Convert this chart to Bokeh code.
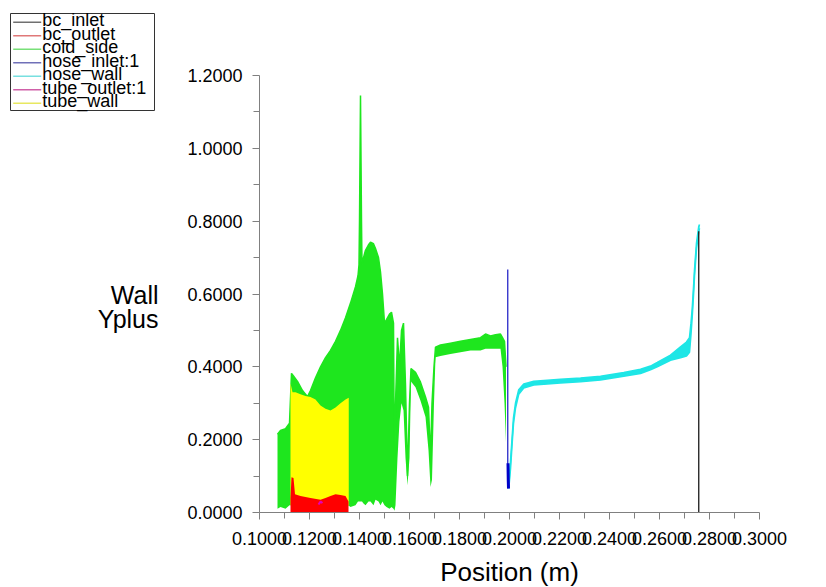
from bokeh.plotting import figure
from bokeh.models import Range1d, FixedTicker, PrintfTickFormatter, Label, Arrow
from bokeh.embed import file_html
from bokeh.resources import INLINE

# ---------------- data ----------------
x_ticks = [0.10, 0.12, 0.14, 0.16, 0.18, 0.20, 0.22, 0.24, 0.26, 0.28, 0.30]
x_minor = [0.11, 0.13, 0.15, 0.17, 0.19, 0.21, 0.23, 0.25, 0.27, 0.29]
y_ticks = [0.0, 0.2, 0.4, 0.6, 0.8, 1.0, 1.2]
y_minor = [0.1, 0.3, 0.5, 0.7, 0.9, 1.1]

series_names = ["bc_inlet", "bc_outlet", "cold_side", "hose_inlet:1",
                "hose_wall", "tube_outlet:1", "tube_wall"]

# cold_side (dense zig-zag) : envelope
cold_pos = [0.1072, 0.1084, 0.1104, 0.1120, 0.1128, 0.1136, 0.1152, 0.1172, 0.1192, 0.1204,
            0.1224, 0.1244, 0.1264, 0.1284, 0.1304, 0.1324, 0.1344, 0.1364, 0.1384, 0.1394,
            0.1398, 0.1400, 0.1404, 0.1408, 0.1410, 0.1416, 0.1424, 0.1436, 0.1444, 0.1456,
            0.1464, 0.1476, 0.1484, 0.1492, 0.1496, 0.1500, 0.1508, 0.1520, 0.1528, 0.1536,
            0.1540,
            0.1544, 0.1552, 0.1560, 0.1568, 0.1576, 0.1584, 0.1592,
            0.1600, 0.1606, 0.1624, 0.1644, 0.1664, 0.1676, 0.1684, 0.1690, 0.1698, 0.1704,
            0.1724, 0.1764, 0.1804, 0.1844, 0.1884, 0.1904, 0.1924, 0.1944, 0.1964, 0.1972,
            0.1980, 0.1986]
cold_max = [0.215, 0.225, 0.230, 0.245, 0.382, 0.375, 0.360, 0.335, 0.318, 0.335,
            0.370, 0.400, 0.425, 0.445, 0.470, 0.500, 0.535, 0.575, 0.620, 0.650,
            0.680, 0.800, 1.145, 0.800, 0.680, 0.700, 0.720, 0.735, 0.742, 0.738,
            0.725, 0.700, 0.660, 0.600, 0.560, 0.520, 0.530, 0.545, 0.550, 0.520,
            0.050,
            0.300, 0.480, 0.400, 0.500, 0.520, 0.350, 0.100,
            0.300, 0.395, 0.385, 0.358, 0.317, 0.289, 0.150, 0.300, 0.400, 0.454,
            0.460, 0.465, 0.470, 0.475, 0.480, 0.490, 0.485, 0.488, 0.490, 0.480,
            0.470, 0.400]
cold_min = [0.010, 0.015, 0.010, 0.020, 0.020, 0.020, 0.020, 0.020, 0.020, 0.020,
            0.020, 0.020, 0.020, 0.020, 0.020, 0.020, 0.025, 0.015, 0.020, 0.030,
            0.030, 0.030, 0.030, 0.030, 0.030, 0.025, 0.020, 0.030, 0.030, 0.020,
            0.035, 0.030, 0.020, 0.030, 0.025, 0.020, 0.015, 0.010, 0.015, 0.010,
            0.005,
            0.020, 0.150, 0.250, 0.300, 0.280, 0.150, 0.075,
            0.150, 0.360, 0.344, 0.307, 0.262, 0.170, 0.070, 0.090, 0.300, 0.426,
            0.430, 0.435, 0.440, 0.445, 0.445, 0.450, 0.450, 0.450, 0.450, 0.400,
            0.300, 0.193]

# tube_wall
tube_wall_pos = [0.1124, 0.1132, 0.1144, 0.1164, 0.1184, 0.1204, 0.1224, 0.1244, 0.1264,
                 0.1284, 0.1304, 0.1324, 0.1344, 0.1357]
tube_wall_max = [0.355, 0.330, 0.330, 0.325, 0.320, 0.317, 0.310, 0.294, 0.285,
                 0.280, 0.288, 0.300, 0.310, 0.315]
tube_wall_min = [0.020, 0.020, 0.020, 0.020, 0.020, 0.020, 0.020, 0.020, 0.020,
                 0.020, 0.020, 0.020, 0.020, 0.020]

# bc_outlet
bc_outlet_pos = [0.1124, 0.1128, 0.1136, 0.1142, 0.1164, 0.1204, 0.1244, 0.1264, 0.1284,
                 0.1304, 0.1324, 0.1344, 0.1356]
bc_outlet_max = [0.040, 0.097, 0.095, 0.050, 0.045, 0.040, 0.035, 0.040, 0.045,
                 0.050, 0.048, 0.045, 0.030]
bc_outlet_min = [0.0, 0.0, 0.0, 0.0, 0.0, 0.0, 0.0, 0.0, 0.0, 0.0, 0.0, 0.0, 0.0]

# tube_outlet:1
tube_outlet_pos = [0.1236, 0.1244, 0.1252]
tube_outlet_yplus = [0.022, 0.030, 0.026]

# hose_wall
hose_wall_pos = [0.1997, 0.2004, 0.2011, 0.2016, 0.2024, 0.2037, 0.2057, 0.2097, 0.2151,
                 0.2204, 0.2284, 0.2364, 0.2457, 0.2524, 0.2564, 0.2591, 0.2644, 0.2684,
                 0.2708, 0.2720, 0.2726, 0.2731, 0.2737, 0.2740, 0.2748, 0.2757, 0.2760]
hose_wall_max = [0.075, 0.140, 0.210, 0.260, 0.300, 0.337, 0.353, 0.360, 0.363,
                 0.366, 0.369, 0.374, 0.384, 0.393, 0.402, 0.412, 0.432, 0.455,
                 0.468, 0.480, 0.520, 0.560, 0.628, 0.665, 0.740, 0.785, 0.791]
hose_wall_min = [0.066, 0.120, 0.195, 0.245, 0.287, 0.325, 0.342, 0.350, 0.353,
                 0.356, 0.359, 0.364, 0.374, 0.382, 0.392, 0.400, 0.418, 0.425,
                 0.430, 0.440, 0.490, 0.540, 0.610, 0.650, 0.725, 0.770, 0.780]

# hose_inlet:1 (face at fixed position)
hose_inlet_pos = [0.1993, 0.1993]
hose_inlet_yplus = [0.667, 0.066]
hose_inlet_low_pos = [0.1994, 0.1995, 0.1996]
hose_inlet_low_yplus = [0.135, 0.090, 0.066]

# bc_inlet (face at fixed position)
bc_inlet_pos = [0.2757, 0.2757]
bc_inlet_yplus = [0.0, 0.772]

# ---------------- styles ----------------
col = {
    "bc_inlet": "#1a1a1a",
    "bc_outlet": "#ff0000",
    "cold_side": "#1ee61e",
    "hose_inlet:1": "#2828c8",
    "hose_wall": "#1ee6e6",
    "tube_outlet:1": "#e000c0",
    "tube_wall": "#ffff00",
}
legend_col = {
    "bc_inlet": "#707070",
    "bc_outlet": "#e07878",
    "cold_side": "#78e078",
    "hose_inlet:1": "#7070b8",
    "hose_wall": "#78e0e0",
    "tube_outlet:1": "#d060a8",
    "tube_wall": "#e8e860",
}

FONT = "Liberation Sans"
W, H = 826, 587
# pixel positions of the axis ends in the page
AX_L, AX_R, AX_T, AX_B = 259, 759, 75, 512
XMIN, XMAX, YMIN, YMAX = 0.1, 0.3, 0.0, 1.2


def dx(px):
    return XMIN + (px - AX_L) * (XMAX - XMIN) / (AX_R - AX_L)


def dy(py):
    return YMIN + (AX_B - py) * (YMAX - YMIN) / (AX_B - AX_T)


def text_at(px, baseline_py, text, size, align):
    # place a text by its baseline (pixel), using a middle anchor
    return Label(x=dx(px), y=dy(baseline_py - 0.36 * size), text=text, text_font=FONT,
                 text_font_size=f"{size}px", text_align=align, text_baseline="middle",
                 text_color="black")


# the frame spans the whole page; axes are pinned at x=0.1 / y=0 with bounds
p = figure(width=W, height=H, x_range=Range1d(dx(0), dx(W)), y_range=Range1d(dy(H), dy(0)),
           output_backend="svg", toolbar_location=None, title=None,
           min_border_left=0, min_border_right=0, min_border_top=0, min_border_bottom=0)
p.outline_line_color = None
p.xgrid.visible = False
p.ygrid.visible = False
p.background_fill_color = "white"
p.border_fill_color = "white"

# glyphs (draw order chosen to match overlap)
p.varea(x=cold_pos, y1=cold_min, y2=cold_max, fill_color=col["cold_side"])
p.line(x=cold_pos, y=cold_max, line_color=col["cold_side"], line_width=1.5)
p.varea(x=tube_wall_pos, y1=tube_wall_min, y2=tube_wall_max, fill_color=col["tube_wall"])
p.varea(x=bc_outlet_pos, y1=bc_outlet_min, y2=bc_outlet_max, fill_color=col["bc_outlet"])
p.line(x=tube_outlet_pos, y=tube_outlet_yplus, line_color=col["tube_outlet:1"], line_width=2)
p.line(x=hose_inlet_pos, y=hose_inlet_yplus, line_color=col["hose_inlet:1"], line_width=1.3)
p.varea(x=hose_wall_pos, y1=hose_wall_min, y2=hose_wall_max, fill_color=col["hose_wall"])
p.line(x=hose_wall_pos, y=hose_wall_max, line_color=col["hose_wall"], line_width=1.6)
p.line(x=hose_wall_pos, y=hose_wall_min, line_color=col["hose_wall"], line_width=1.6)
p.line(x=hose_inlet_low_pos, y=hose_inlet_low_yplus, line_color="#0000c8", line_width=3)
p.line(x=bc_inlet_pos, y=bc_inlet_yplus, line_color=col["bc_inlet"], line_width=1.3)

# axes
xa = p.xaxis[0]
ya = p.yaxis[0]
xa.fixed_location = YMIN
ya.fixed_location = XMIN
xa.bounds = (XMIN, XMAX)
ya.bounds = (YMIN, YMAX)
for ax in (xa, ya):
    ax.axis_line_color = "#808080"
    ax.major_tick_line_color = "#808080"
    ax.minor_tick_line_color = "#808080"
    ax.major_tick_in = 0
    ax.minor_tick_in = 0
    ax.major_tick_out = 7
    ax.minor_tick_out = 6
    ax.major_label_text_font = FONT
    ax.major_label_text_font_size = "18px"
    ax.major_label_text_color = "black"
    ax.formatter = PrintfTickFormatter(format="%.4f")
xa.ticker = FixedTicker(ticks=x_ticks, minor_ticks=x_minor)
ya.ticker = FixedTicker(ticks=y_ticks, minor_ticks=y_minor)
xa.major_label_standoff = 12
ya.major_label_standoff = 10

# axis titles
p.add_layout(text_at(158, 303, "Wall", 25, "right"))
p.add_layout(text_at(158, 327, "Yplus", 25, "right"))
p.add_layout(text_at(509, 581, "Position (m)", 26, "center"))

# legend box (top-left)
bx0, bx1, by0, by1 = 10, 154, 13, 110
for (xa0, ya0, xb0, yb0) in [(bx0, by0, bx1, by0), (bx1, by0, bx1, by1),
                             (bx1, by1, bx0, by1), (bx0, by1, bx0, by0)]:
    p.add_layout(Arrow(end=None, x_start=dx(xa0), y_start=dy(ya0), x_end=dx(xb0), y_end=dy(yb0),
                       line_color="#333333", line_width=1))
row0, row_step = 21.7, 13.5
for i, name in enumerate(series_names):
    ly = row0 + i * row_step
    p.add_layout(Arrow(end=None, x_start=dx(12.7), y_start=dy(ly), x_end=dx(40.7), y_end=dy(ly),
                       line_color=legend_col[name], line_width=1.5))
    p.add_layout(text_at(41.7, ly + 4.6, name, 18, "left"))

open("out.html", "w").write(file_html(p, INLINE))
